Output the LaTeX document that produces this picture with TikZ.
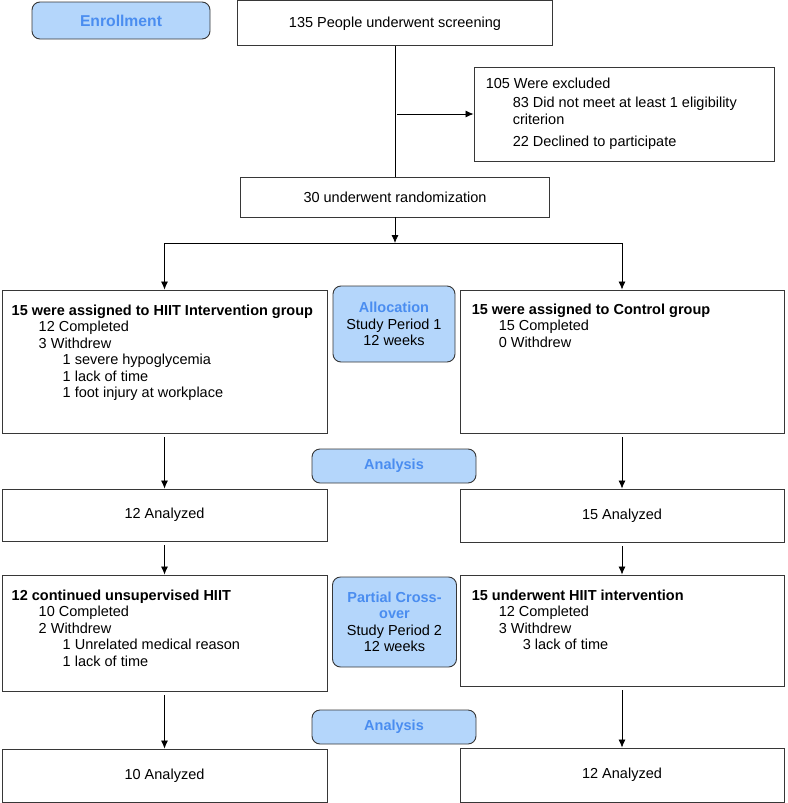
\documentclass[tikz,border=0pt]{standalone}
\usepackage{fontspec}
\setmainfont{Liberation Sans}
\usetikzlibrary{arrows.meta}
\tikzset{>={Latex[width=7pt,length=8pt]}}
\definecolor{stagefill}{RGB}{180,214,251}
\definecolor{stagetext}{RGB}{74,141,240}
\definecolor{edgegray}{RGB}{55,55,55}
\tikzset{
  box/.style={draw=edgegray, line width=0.9pt, rectangle, inner sep=0pt},
  stage/.style={box, rounded corners=8pt, fill=stagefill, align=center},
  body/.style={anchor=north west, inner sep=0pt, align=left},
  link/.style={->, line width=0.8pt, shorten <=4pt},
}
\newcommand\lvlone{\hspace*{27pt}}
\newcommand\lvltwo{\hspace*{51pt}}
\newcommand\stagename[1]{\textcolor{stagetext}{\textbf{#1}}}

\begin{document}
\begin{tikzpicture}[x=1pt, y=1pt, font=\fontsize{14.5}{16.5}\selectfont]
  \useasboundingbox (0,0) rectangle (787,-803);

  % enrollment
  \node[stage, minimum width=178, minimum height=37, font=\fontsize{15.7}{18}\selectfont] (enroll) at (121,-20.5) {\stagename{Enrollment}};
  \node[box, minimum width=315, minimum height=45] (screen) at (395,-23.4) {135 People underwent screening};
  \node[box, minimum width=300, minimum height=94] (excl) at (624,-114) {};
  \node[body] (excltext) at ([shift={(12,-11)}]excl.north west) {105 Were excluded\\[3pt]
    \lvlone 83 Did not meet at least 1 eligibility\\
    \lvlone criterion\\[6pt]
    \lvlone 22 Declined to participate};
  \node[box, minimum width=309, minimum height=40] (rand) at (395,-197) {30 underwent randomization};
  \coordinate (split) at (395,-243);

  % allocation
  \node[box, minimum width=325, minimum height=143] (hiit) at (164.5,-361.5) {};
  \node[body] (hiittext) at ([shift={(10,-15)}]hiit.north west) {\textbf{15 were assigned to HIIT Intervention group}\\
    \lvlone 12 Completed\\
    \lvlone 3 Withdrew\\
    \lvltwo 1 severe hypoglycemia\\
    \lvltwo 1 lack of time\\
    \lvltwo 1 foot injury at workplace};
  \node[stage, minimum width=122, minimum height=76] (alloc) at (394,-324) {\stagename{Allocation}\\Study Period 1\\12 weeks};
  \node[box, minimum width=324, minimum height=143] (ctrl) at (622,-361.5) {};
  \node[body] (ctrltext) at ([shift={(12,-14)}]ctrl.north west) {\textbf{15 were assigned to Control group}\\
    \lvlone 15 Completed\\
    \lvlone 0 Withdrew};

  % analysis 1
  \node[stage, minimum width=164, minimum height=34] (anaone) at (394,-466) {\stagename{Analysis}};
  \node[box, minimum width=325, minimum height=52] (hiitan) at (164.5,-515) {12 Analyzed};
  \node[box, minimum width=324, minimum height=53] (ctrlan) at (622,-515.5) {15 Analyzed};

  % cross-over
  \node[box, minimum width=325, minimum height=116] (cont) at (164.5,-633) {};
  \node[body] (conttext) at ([shift={(10,-15)}]cont.north west) {\textbf{12 continued unsupervised HIIT}\\
    \lvlone 10 Completed\\
    \lvlone 2 Withdrew\\
    \lvltwo 1 Unrelated medical reason\\
    \lvltwo 1 lack of time};
  \node[stage, minimum width=124, minimum height=90] (cross) at (394.5,-622) {\stagename{Partial Cross-}\\\stagename{over}\\Study Period 2\\12 weeks};
  \node[box, minimum width=324, minimum height=111] (swap) at (622,-630.5) {};
  \node[body] (swaptext) at ([shift={(12,-15)}]swap.north west) {\textbf{15 underwent HIIT intervention}\\
    \lvlone 12 Completed\\
    \lvlone 3 Withdrew\\
    \lvltwo 3 lack of time};

  % analysis 2
  \node[stage, minimum width=164, minimum height=34] (anatwo) at (394,-727) {\stagename{Analysis}};
  \node[box, minimum width=325, minimum height=53] (contan) at (164.5,-775.5) {10 Analyzed};
  \node[box, minimum width=324, minimum height=54] (swapan) at (622,-775) {12 Analyzed};

  \draw[line width=0.8pt] (screen.south) -- (rand.north);
  \draw[link, shorten <=2pt] (screen.south |- excl.west) -- (excl.west);
  \draw[->, line width=0.8pt] (rand.south) -- (split);
  \draw[->, line width=0.8pt] (split) -| (hiit.north);
  \draw[->, line width=0.8pt] (split) -| (ctrl.north);

  \draw[link] (hiit) -- (hiitan);
  \draw[link] (ctrl) -- (ctrlan);
  \draw[link] (hiitan) -- (cont);
  \draw[link] (ctrlan) -- (swap);
  \draw[link] (cont) -- (contan);
  \draw[link] (swap) -- (swapan);

\end{tikzpicture}
\end{document}
